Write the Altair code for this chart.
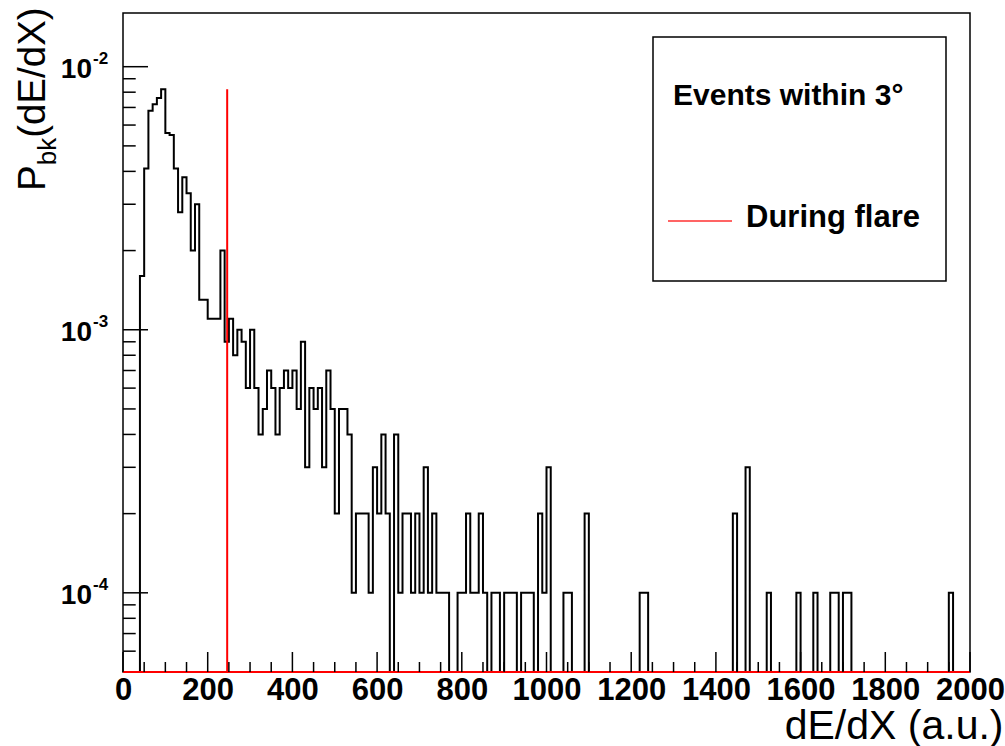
import altair as alt
import pandas as pd

# ---------------- data ----------------
X_DOMAIN = [0, 2000]
Y_DOMAIN = [5e-5, 1.6e-2]

bin_low = list(range(0, 2000, 10))  # bin lower edges, width 10
p_bk = [
    0, 0, 0, 0, 16e-4, 41e-4, 68e-4, 72e-4, 76e-4, 82e-4,            # 0-90
    56e-4, 55e-4, 41e-4, 28e-4, 38e-4, 33e-4, 20e-4, 30e-4, 13e-4, 13e-4,  # 100-190
    11e-4, 11e-4, 11e-4, 20e-4, 9e-4, 11e-4, 8e-4, 10e-4, 9e-4, 6e-4,  # 200-290
    10e-4, 6e-4, 4e-4, 5e-4, 7e-4, 6e-4, 4e-4, 6e-4, 7e-4, 6e-4,      # 300-390
    7e-4, 5e-4, 9e-4, 3e-4, 6e-4, 5e-4, 6e-4, 3e-4, 7e-4, 5e-4,       # 400-490
    2e-4, 5e-4, 5e-4, 4e-4, 1e-4, 2e-4, 2e-4, 2e-4, 1e-4, 3e-4,       # 500-590
    2e-4, 4e-4, 2e-4, 0, 4e-4, 1e-4, 2e-4, 2e-4, 1e-4, 2e-4,          # 600-690
    1e-4, 3e-4, 1e-4, 2e-4, 1e-4, 1e-4, 1e-4, 0, 0, 1e-4,             # 700-790
    1e-4, 2e-4, 1e-4, 1e-4, 2e-4, 1e-4, 0, 1e-4, 1e-4, 0,             # 800-890
    1e-4, 1e-4, 1e-4, 0, 1e-4, 1e-4, 1e-4, 0, 2e-4, 1e-4,             # 900-990
    3e-4, 0, 0, 0, 1e-4, 1e-4, 0, 0, 0, 2e-4,                         # 1000-1090
    0, 0, 0, 0, 0, 0, 0, 0, 0, 0,                                     # 1100-1190
    0, 0, 1e-4, 1e-4, 0, 0, 0, 0, 0, 0,                               # 1200-1290
    0, 0, 0, 0, 0, 0, 0, 0, 0, 0,                                     # 1300-1390
    0, 0, 0, 0, 2e-4, 0, 0, 3e-4, 0, 0,                               # 1400-1490
    0, 0, 1e-4, 0, 0, 0, 0, 0, 0, 1e-4,                               # 1500-1590
    0, 0, 0, 1e-4, 0, 0, 0, 1e-4, 1e-4, 0,                            # 1600-1690
    1e-4, 1e-4, 0, 0, 0, 0, 0, 0, 0, 0,                               # 1700-1790
    0, 0, 0, 0, 0, 0, 0, 0, 0, 0,                                     # 1800-1890
    0, 0, 0, 0, 0, 1e-4, 0, 0, 0, 0,                                  # 1900-1990
]

flare_x = [246]
flare_p = [8.2e-3]

x_label_values = [0, 200, 400, 600, 800, 1000, 1200, 1400, 1600, 1800, 2000]
x_minor_ticks = [50, 100, 150, 250, 300, 350, 450, 500, 550, 650, 700, 750,
                 850, 900, 950, 1050, 1100, 1150, 1250, 1300, 1350, 1450, 1500,
                 1550, 1650, 1700, 1750, 1850, 1900, 1950]
y_decades = [1e-2, 1e-3, 1e-4]
y_exponents = ["-2", "-3", "-4"]
y_minor_ticks = [6e-5, 7e-5, 8e-5, 9e-5,
                 2e-4, 3e-4, 4e-4, 5e-4, 6e-4, 7e-4, 8e-4, 9e-4,
                 2e-3, 3e-3, 4e-3, 5e-3, 6e-3, 7e-3, 8e-3, 9e-3]

legend_title = "Events within 3°"
legend_entry = "During flare"
y_title_parts = ["P", "bk", "(dE/dX)"]
x_title = "dE/dX (a.u.)"

# ---------------- layout ----------------
W, H = 847, 659
FONT = "Liberation Sans"

xscale = alt.Scale(domain=X_DOMAIN, nice=False, zero=False)
yscale = alt.Scale(type="log", domain=Y_DOMAIN, nice=False, clamp=True)

xaxis = alt.Axis(values=x_label_values, format="d", ticks=False, domain=False, grid=False,
                 labelFont=FONT, labelFontSize=31, labelFontWeight="bold",
                 labelColor="#000", labelPadding=3, labelFlush=False,
                 labelOverlap=False, labelBound=False,
                 title=x_title, titleFont=FONT, titleFontSize=41,
                 titleFontWeight="normal", titleColor="#000",
                 titleAlign="right", titleAnchor="end", titleX=880, titleY=66,
                 titleBaseline="alphabetic")

hist_df = pd.DataFrame({"x": bin_low + [X_DOMAIN[1]], "p": p_bk + [p_bk[-1]]})

hist = alt.Chart(hist_df).transform_calculate(
    y=f"datum.p > 0 ? datum.p : {Y_DOMAIN[0]}"
).mark_line(interpolate="step-after", color="#000", strokeWidth=2,
            strokeJoin="miter", strokeCap="butt").encode(
    x=alt.X("x:Q", scale=xscale, axis=xaxis),
    y=alt.Y("y:Q", scale=yscale, axis=None),
)

flare_df = pd.DataFrame({"x": flare_x, "y": flare_p})
flare_floor = alt.Chart(flare_df).mark_rule(color="#ff0000", strokeWidth=2).encode(
    x=alt.value(0), x2=alt.value(W), y=alt.value(H))
flare_spike = alt.Chart(flare_df).mark_rule(color="#ff0000", strokeWidth=2).encode(
    x=alt.X("x:Q", scale=xscale, axis=xaxis),
    y=alt.Y("y:Q", scale=yscale, axis=None),
    y2=alt.value(H))

xmaj_df = pd.DataFrame({"x": x_label_values})
xmin_df = pd.DataFrame({"x": x_minor_ticks})
xmaj = alt.Chart(xmaj_df).mark_rule(color="#000", strokeWidth=1.5).encode(
    x=alt.X("x:Q", scale=xscale, axis=xaxis), y=alt.value(H), y2=alt.value(H - 20))
xmin = alt.Chart(xmin_df).mark_rule(color="#000", strokeWidth=1.5).encode(
    x=alt.X("x:Q", scale=xscale, axis=xaxis), y=alt.value(H), y2=alt.value(H - 10))

ymaj_df = pd.DataFrame({"y": y_decades, "base": ["10"] * 3, "exp": y_exponents})
ymin_df = pd.DataFrame({"y": y_minor_ticks})
ymaj = alt.Chart(ymaj_df).mark_rule(color="#000", strokeWidth=1.5).encode(
    y=alt.Y("y:Q", scale=yscale, axis=None), x=alt.value(0), x2=alt.value(25))
ymin = alt.Chart(ymin_df).mark_rule(color="#000", strokeWidth=1.5).encode(
    y=alt.Y("y:Q", scale=yscale, axis=None), x=alt.value(0), x2=alt.value(12.7))

ylab_base = alt.Chart(ymaj_df).mark_text(
    align="right", baseline="middle", font=FONT, fontSize=28, fontWeight="bold",
    color="#000", dy=3).encode(
    y=alt.Y("y:Q", scale=yscale, axis=None), x=alt.value(-31), text="base:N")
ylab_exp = alt.Chart(ymaj_df).mark_text(
    align="left", baseline="middle", font=FONT, fontSize=17, fontWeight="bold",
    color="#000", dy=-8).encode(
    y=alt.Y("y:Q", scale=yscale, axis=None), x=alt.value(-30), text="exp:N")

# y-axis title with subscript, built from three rotated text pieces
T1, T2 = 38.5, 26
ytitle_df = pd.DataFrame({"t": [y_title_parts[0]]})
ytitle_sub_df = pd.DataFrame({"t": [y_title_parts[1]]})
ytitle_rest_df = pd.DataFrame({"t": [y_title_parts[2]]})
yt1 = alt.Chart(ytitle_df).mark_text(
    align="left", baseline="alphabetic", angle=270, font=FONT, fontSize=T1,
    color="#000").encode(x=alt.value(-78), y=alt.value(178), text="t:N")
yt2 = alt.Chart(ytitle_sub_df).mark_text(
    align="left", baseline="alphabetic", angle=270, font=FONT, fontSize=T2,
    color="#000").encode(x=alt.value(-67), y=alt.value(178 - 0.667 * T1), text="t:N")
yt3 = alt.Chart(ytitle_rest_df).mark_text(
    align="left", baseline="alphabetic", angle=270, font=FONT, fontSize=T1,
    color="#000").encode(x=alt.value(-78),
                         y=alt.value(178 - 0.667 * T1 - 1.056 * T2), text="t:N")

# legend box
leg_df = pd.DataFrame({"title": [legend_title], "entry": [legend_entry]})
leg_box = alt.Chart(leg_df).mark_rect(fill="white", stroke="#000", strokeWidth=1.5).encode(
    x=alt.value(530), x2=alt.value(823), y=alt.value(24), y2=alt.value(268))
leg_title = alt.Chart(leg_df).mark_text(
    align="left", baseline="alphabetic", font=FONT, fontSize=30, fontWeight="bold",
    color="#000").encode(x=alt.value(550), y=alt.value(92), text="title:N")
leg_line = alt.Chart(leg_df).mark_rule(color="#ff3030", strokeWidth=1.5).encode(
    x=alt.value(545), x2=alt.value(609), y=alt.value(208))
leg_entry = alt.Chart(leg_df).mark_text(
    align="left", baseline="alphabetic", font=FONT, fontSize=31, fontWeight="bold",
    color="#000").encode(x=alt.value(623), y=alt.value(214), text="entry:N")

chart = alt.layer(
    hist, flare_floor, flare_spike, xmaj, xmin, ymaj, ymin,
    ylab_base, ylab_exp, yt1, yt2, yt3,
    leg_box, leg_title, leg_line, leg_entry,
).properties(
    width=W, height=H,
    autosize=alt.AutoSizeParams(type="none"),
    padding={"left": 123, "top": 13, "right": 35, "bottom": 74},
).configure(
    background="white",
    view=alt.ViewConfig(stroke="#000", strokeWidth=1.5),
)

chart.save("out.html", embed_options={"renderer": "svg", "actions": False})
